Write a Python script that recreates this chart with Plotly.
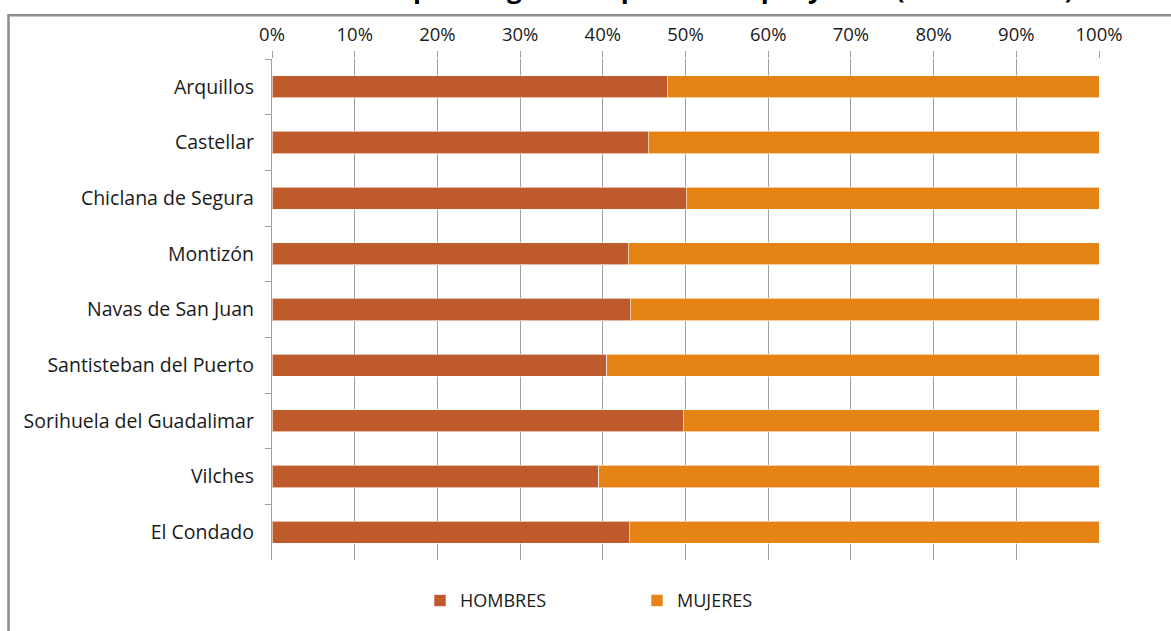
import plotly.graph_objects as go

municipios = ["Arquillos", "Castellar", "Chiclana de Segura", "Montizón", "Navas de San Juan",
              "Santisteban del Puerto", "Sorihuela del Guadalimar", "Vilches", "El Condado"]
hombres = [47.8, 45.5, 50.1, 43.1, 43.3, 40.5, 49.7, 39.5, 43.2]
mujeres = [round(100 - h, 1) for h in hombres]
tick_vals = [0, 10, 20, 30, 40, 50, 60, 70, 80, 90, 100]
tick_text = [f"{v}%" for v in tick_vals]
titulo = "Demandantes de paro registrado por municipio y sexo (Media anual)"

W, H = 1171, 631
L, R, T, B = 272, 72, 59, 68
pw, ph = W - L - R, H - T - B

def px(x):
    return (x - L) / pw

def py(y):
    return (H - B - y) / ph

FONT = "Open Sans"
TXT = "#1a1a1a"
fig = go.Figure()
fig.add_trace(go.Bar(y=municipios, x=hombres, name="HOMBRES", orientation="h",
                     marker=dict(color="#BE5A2C", line=dict(color="rgba(255,255,255,0.6)", width=1))))
fig.add_trace(go.Bar(y=municipios, x=mujeres, name="MUJERES", orientation="h",
                     marker=dict(color="#E58314", line=dict(color="rgba(255,255,255,0.6)", width=1))))

fig.update_layout(
    width=W, height=H, barmode="stack", bargap=0.6,
    margin=dict(l=L, r=R, t=T, b=B, pad=0),
    paper_bgcolor="white", plot_bgcolor="white",
    font=dict(family=FONT, size=18, color=TXT),
    showlegend=True,
    legend=dict(orientation="h", x=px(420), xanchor="left", y=py(604), yanchor="middle",
                font=dict(size=18, family=FONT, color=TXT),
                entrywidth=172, entrywidthmode="pixels", traceorder="normal",
                itemwidth=30),
    xaxis=dict(side="top", range=[0, 100], tickvals=tick_vals, ticktext=tick_text,
               showgrid=True, gridcolor="#a0a0a0", gridwidth=1.3,
               ticks="outside", ticklen=7, tickcolor="#a0a0a0", tickwidth=1.3,
               ticklabelstandoff=3,
               showline=False, zeroline=False, fixedrange=True,
               tickfont=dict(size=18.5, family=FONT, color=TXT)),
    yaxis=dict(autorange="reversed", categoryorder="array", categoryarray=municipios,
               ticks="outside", tickson="boundaries", ticklen=6, tickcolor="#a0a0a0", tickwidth=1.3,
               ticklabelstandoff=13, fixedrange=True,
               showline=True, linecolor="#a0a0a0", linewidth=1.3, showgrid=False,
               tickfont=dict(size=19.5, family=FONT, color=TXT)),
    shapes=[dict(type="rect", xref="paper", yref="paper",
                 x0=px(8.5), x1=px(1180), y0=py(15), y1=py(700),
                 line=dict(color="#8c8c8c", width=2.5), fillcolor="rgba(0,0,0,0)", layer="above")],
    annotations=[dict(text=f"<b>{titulo}</b>", xref="paper", yref="paper",
                      x=px(630), y=py(7.5), xanchor="center", yanchor="bottom",
                      showarrow=False, font=dict(size=26, family=FONT, color="#000000"))],
)

fig.write_html("out.html", config={"displayModeBar": False},
               post_script="document.body.style.margin='0px';")
